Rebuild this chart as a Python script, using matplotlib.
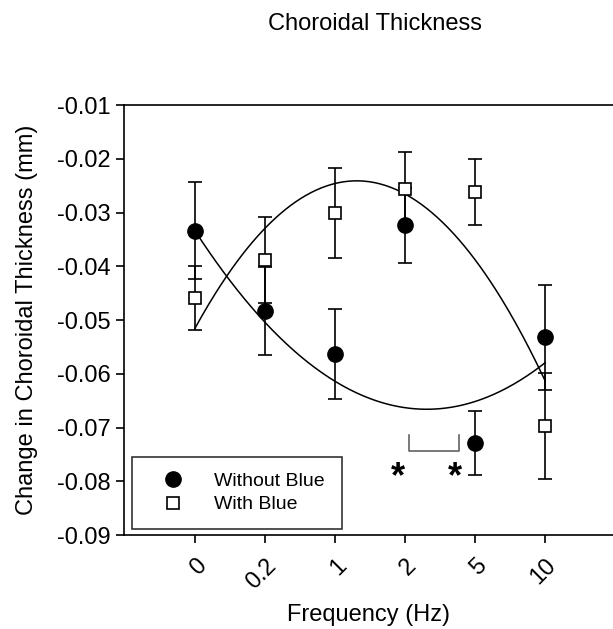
import numpy as np
import matplotlib.pyplot as plt
from matplotlib.lines import Line2D

plt.rcParams['font.family'] = ['Liberation Sans', 'DejaVu Sans']

# Data
freq_labels = ['0', '0.2', '1', '2', '5', '10']
without_blue = [-0.0334, -0.0483, -0.0563, -0.0324, -0.0729, -0.0532]
without_err = [0.0090, 0.0082, 0.0084, 0.0069, 0.0060, 0.0098]
with_blue = [-0.0459, -0.0388, -0.0301, -0.0257, -0.0262, -0.0697]
with_err = [0.0060, 0.0080, 0.0084, 0.0069, 0.0061, 0.0098]

# quadratic fit curves (vertex x, vertex y, curvature)
fit_without = (3.31, -0.0666, 0.00303)
fit_with = (2.31, -0.0241, -0.00514)

x = np.arange(len(freq_labels))

fig = plt.figure(figsize=(6.13, 6.29), dpi=100)
ax = fig.add_axes([0.2023, 0.1494, 0.7977, 0.6836])

# fitted curves
xs = np.linspace(0, 5, 200)
for xv, yv, a in (fit_without, fit_with):
    ax.plot(xs, a * (xs - xv) ** 2 + yv, color='black', lw=1.1, zorder=2)

ax.errorbar(x, without_blue, yerr=without_err, fmt='none', ecolor='black',
            elinewidth=1.2, capsize=5, capthick=1.2, zorder=3)
ax.errorbar(x, with_blue, yerr=with_err, fmt='none', ecolor='black',
            elinewidth=1.2, capsize=5, capthick=1.2, zorder=3)
ax.plot(x, without_blue, 'o', color='black', markersize=11, zorder=5)
ax.plot(x, with_blue, 's', markerfacecolor='white', markeredgecolor='black',
        markeredgewidth=1.2, markersize=9, zorder=4)

# significance bracket and asterisks
ax.plot([3.06, 3.06, 3.77, 3.77], [-0.0714, -0.0744, -0.0744, -0.0714],
        color='#555555', lw=1.1)
ax.text(2.9, -0.0785, '*', fontsize=26, fontweight='bold',
        ha='center', va='center_baseline')
ax.text(3.71, -0.0785, '*', fontsize=26, fontweight='bold',
        ha='center', va='center_baseline')

ax.set_xlim(-1.014, 5.97)
ax.set_ylim(-0.09, -0.01)
ax.set_yticks(np.arange(-0.09, -0.0099, 0.01))
ax.set_yticklabels(['%.2f' % v for v in np.arange(-0.09, -0.0099, 0.01)])
ax.set_xticks(x)
ax.set_xticklabels(freq_labels, rotation=45, ha='right', rotation_mode='anchor')
ax.tick_params(axis='both', labelsize=17, direction='out', length=6, width=1.2)
ax.tick_params(axis='x', pad=8)
ax.spines['right'].set_visible(False)
for s in ['left', 'top', 'bottom']:
    ax.spines[s].set_linewidth(1.2)

ax.set_xlabel('Frequency (Hz)', fontsize=17, labelpad=8)
ax.set_ylabel('Change in Choroidal Thickness (mm)', fontsize=17, labelpad=14)
fig.text(0.612, 0.962, 'Choroidal Thickness', fontsize=17, ha='center', va='center')

handles = [Line2D([], [], marker='o', color='black', linestyle='none', markersize=11),
           Line2D([], [], marker='s', markerfacecolor='white', markeredgecolor='black',
                  markeredgewidth=1.2, linestyle='none', markersize=9)]
leg = ax.legend(handles, ['Without Blue', 'With Blue'], loc='lower left',
                bbox_to_anchor=(0.016, 0.014, 0.43, 0.177), mode='expand',
                borderaxespad=0, fontsize=14, frameon=True, fancybox=False,
                borderpad=0.8, labelspacing=0.3, handlelength=2.6,
                handletextpad=0.8)
leg.get_frame().set_edgecolor('black')
leg.get_frame().set_linewidth(1.2)

fig.savefig('out.png', dpi=100)
